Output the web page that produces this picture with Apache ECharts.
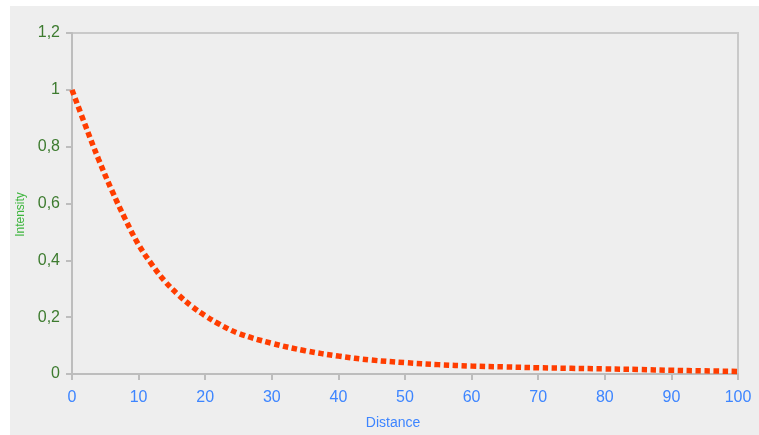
<!DOCTYPE html>
<html>
<head>
<meta charset="utf-8">
<script src="https://cdn.jsdelivr.net/npm/echarts@6/dist/echarts.min.js"></script>
<style>
html,body{margin:0;padding:0;background:#ffffff;}
#c{width:759px;height:435px;}
</style>
</head>
<body>
<div id="c"></div>
<script>
var distance = [0, 2, 4, 6, 8, 10, 12, 14, 16, 18, 20, 22, 25, 30, 35, 40, 45, 50, 55, 60, 65, 70, 75, 80, 85, 90, 95, 100];
var intensity = [1.0, 0.875, 0.755, 0.645, 0.545, 0.455, 0.385, 0.325, 0.278, 0.238, 0.205, 0.177, 0.143, 0.108, 0.082, 0.063, 0.049, 0.040, 0.033, 0.028, 0.025, 0.022, 0.020, 0.018, 0.016, 0.013, 0.011, 0.009];
var xName = 'Distance';
var yName = 'Intensity';

var points = distance.map(function (d, i) { return [d, intensity[i]]; });

var chart = echarts.init(document.getElementById('c'));
chart.setOption({
  animation: false,
  backgroundColor: 'transparent',
  graphic: [{
    type: 'rect', left: 10, top: 6, z: -100,
    shape: { width: 749, height: 429 },
    style: { fill: '#eeeeee' }
  }],
  grid: {
    left: 72, right: 21, top: 33, bottom: 60,
    show: true, borderColor: '#c9c9c9', borderWidth: 2, backgroundColor: 'transparent'
  },
  xAxis: {
    type: 'value', min: 0, max: 100, interval: 10,
    name: xName, nameLocation: 'middle', nameGap: 42,
    nameTextStyle: { color: '#3d85ff', fontSize: 14, fontFamily: 'Liberation Sans', padding: [0, 24, 0, 0] },
    axisLine: { show: true, lineStyle: { color: '#bdbdbd', width: 2 } },
    axisTick: { show: true, length: 6, lineStyle: { color: '#bdbdbd', width: 2 } },
    axisLabel: { color: '#3d85ff', fontSize: 16, fontFamily: 'Liberation Sans', margin: 16 },
    splitLine: { show: false }
  },
  yAxis: {
    type: 'value', min: 0, max: 1.2, interval: 0.2,
    name: yName, nameLocation: 'middle', nameGap: 45, nameRotate: 90,
    nameTextStyle: { color: '#3db53d', fontSize: 12, fontFamily: 'Liberation Sans', padding: [0, 22, 0, 0] },
    axisLine: { show: true, lineStyle: { color: '#bdbdbd', width: 2 } },
    axisTick: { show: true, length: 6, lineStyle: { color: '#bdbdbd', width: 2 } },
    axisLabel: {
      color: '#3d7b2f', fontSize: 16, fontFamily: 'Liberation Sans', margin: 12,
      formatter: function (v) { return String(Math.round(v * 10) / 10).replace('.', ','); }
    },
    splitLine: { show: false }
  },
  series: [{
    type: 'line',
    data: points,
    smooth: 0.4,
    symbol: 'none',
    lineStyle: { color: '#ff3d00', width: 5.5, type: [5.5, 3.5], cap: 'butt' }
  }]
});
</script>
</body>
</html>
